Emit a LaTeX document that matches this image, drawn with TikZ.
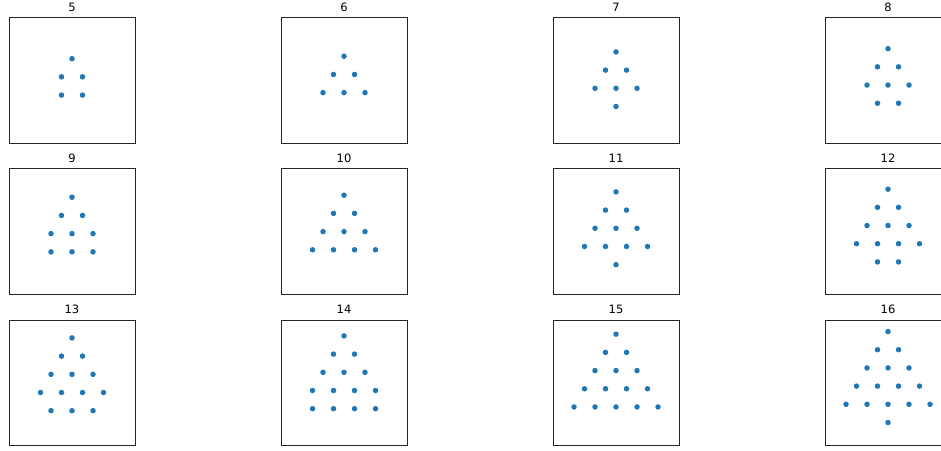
\documentclass[tikz,border=0pt]{standalone}
\usepackage{fontspec}
\setmainfont{DejaVu Sans}
\definecolor{mplblue}{HTML}{1F77B4}
\tikzset{
  panelbox/.style={draw=black!85, line width=0.8pt},
  dot/.style={fill=mplblue},
  ptitle/.style={anchor=base, font=\fontsize{11.5}{13}\selectfont, inner sep=0pt}
}
\newcommand\dotpanel[5]{%
  \pgfmathsetmacro\pnlL{9+272*#1}%
  \pgfmathsetmacro\pnlT{17.7+151.1*#2}%
  \pgfmathsetmacro\pnlCX{\pnlL+63}%
  \pgfmathsetmacro\pnlCY{\pnlT+62.8}%
  \draw[panelbox] (\pnlL,\pnlT) rectangle ++(126,125.6);
  \node[ptitle] (t#3) at (\pnlCX,\pnlT-6.5) {#3};
  \foreach \dx/\r in {#5}
    \fill[dot] ({\pnlCX+(\dx)*21},{\pnlCY+(\r-#4)*18.19}) circle[radius=2.75pt];
}
\begin{document}
\begin{tikzpicture}[x=1pt,y=-1pt]
\useasboundingbox (0,0) rectangle (941,450);
\clip (0,0) rectangle (941,450);
\fill[white] (0,0) rectangle (941,450);
\dotpanel{0}{0}{5}{1.2}{0/0,-0.5/1,0.5/1,-0.5/2,0.5/2}
\dotpanel{1}{0}{6}{1.33333}{0/0,-0.5/1,0.5/1,-1/2,0/2,1/2}
\dotpanel{2}{0}{7}{1.57143}{0/0,-0.5/1,0.5/1,-1/2,0/2,1/2,0/3}
\dotpanel{3}{0}{8}{1.75}{0/0,-0.5/1,0.5/1,-1/2,0/2,1/2,-0.5/3,0.5/3}
\dotpanel{0}{1}{9}{1.88889}{0/0,-0.5/1,0.5/1,-1/2,0/2,1/2,-1/3,0/3,1/3}
\dotpanel{1}{1}{10}{2}{0/0,-0.5/1,0.5/1,-1/2,0/2,1/2,-1.5/3,-0.5/3,0.5/3,1.5/3}
\dotpanel{2}{1}{11}{2.18182}{0/0,-0.5/1,0.5/1,-1/2,0/2,1/2,-1.5/3,-0.5/3,0.5/3,1.5/3,0/4}
\dotpanel{3}{1}{12}{2.33333}{0/0,-0.5/1,0.5/1,-1/2,0/2,1/2,-1.5/3,-0.5/3,0.5/3,1.5/3,-0.5/4,0.5/4}
\dotpanel{0}{2}{13}{2.46154}{0/0,-0.5/1,0.5/1,-1/2,0/2,1/2,-1.5/3,-0.5/3,0.5/3,1.5/3,-1/4,0/4,1/4}
\dotpanel{1}{2}{14}{2.57143}{0/0,-0.5/1,0.5/1,-1/2,0/2,1/2,-1.5/3,-0.5/3,0.5/3,1.5/3,-1.5/4,-0.5/4,0.5/4,1.5/4}
\dotpanel{2}{2}{15}{2.66667}{0/0,-0.5/1,0.5/1,-1/2,0/2,1/2,-1.5/3,-0.5/3,0.5/3,1.5/3,-2/4,-1/4,0/4,1/4,2/4}
\dotpanel{3}{2}{16}{2.8125}{0/0,-0.5/1,0.5/1,-1/2,0/2,1/2,-1.5/3,-0.5/3,0.5/3,1.5/3,-2/4,-1/4,0/4,1/4,2/4,0/5}
\end{tikzpicture}
\end{document}
